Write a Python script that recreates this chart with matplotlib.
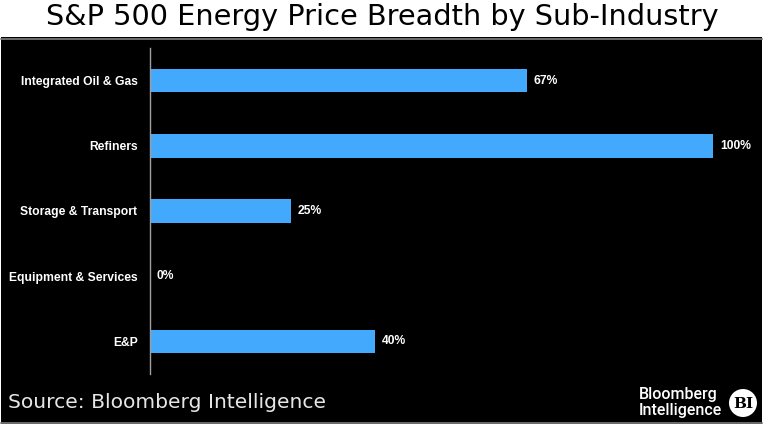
import numpy as np
import matplotlib.pyplot as plt
from matplotlib.patches import Rectangle, Circle

# data
categories = ["Integrated Oil & Gas", "Refiners", "Storage & Transport",
              "Equipment & Services", "E&P"]
breadth = [67, 100, 25, 0, 40]

W, H = 764, 426
fig = plt.figure(figsize=(W / 100, H / 100), dpi=100)
fig.patch.set_facecolor("white")

# black panel with gray rules
fig.add_artist(Rectangle((1 / W, 1 - 424 / H), 761 / W, 387 / H,
                         transform=fig.transFigure, facecolor="black",
                         edgecolor="none", zorder=-5))
for yy in (38.5, 422.5):
    fig.add_artist(plt.Line2D([1 / W, 762 / W], [1 - yy / H, 1 - yy / H],
                              transform=fig.transFigure, color="#808080", lw=1.2,
                              zorder=-4))

# axes: x=0 at 150px, 100% at 713px
x0, px_per = 150, 5.63
xmax = 108
ax = fig.add_axes([x0 / W, 1 - 374 / H, xmax * px_per / W, 326 / H])
ax.set_facecolor("none")

y = np.arange(len(categories))
ax.barh(y, breadth, height=0.36, color="#42a9fc")
ax.set_xlim(0, xmax)
ax.set_ylim(len(categories) - 0.5, -0.5)
ax.set_yticks(y)
ax.set_yticklabels(categories, color="white", fontsize=8.7, fontweight="bold",
                   family="Liberation Sans")
ax.tick_params(axis="y", length=0, pad=9)
ax.set_xticks([])
for s in ("top", "right", "bottom"):
    ax.spines[s].set_visible(False)
ax.spines["left"].set_color("#a0a0a0")
ax.spines["left"].set_linewidth(1)

for yi, v in zip(y, breadth):
    ax.text(v + 1.2, yi, f"{v}%", color="white", fontsize=8.7, fontweight="bold",
            family="Liberation Sans", va="center", ha="left")

fig.text(0.5, 1 - 17 / H, "S&P 500 Energy Price Breadth by Sub-Industry",
         ha="center", va="center", fontsize=20.7, color="black")
fig.text(8 / W, 1 - 402 / H, "Source: Bloomberg Intelligence", ha="left",
         va="center", fontsize=14.6, color="#e6e6e6")

# logo
fig.text(639 / W, 1 - 394 / H, "Bloomberg", ha="left", va="center",
         fontsize=11.5, color="white", family="Roboto", fontweight="medium")
fig.text(639 / W, 1 - 411 / H, "Intelligence", ha="left", va="center",
         fontsize=11.5, color="white", family="Roboto", fontweight="medium")
logo = fig.add_axes([729 / W, 1 - 417 / H, 28 / W, 28 / H])
logo.axis("off")
logo.set_xlim(0, 1)
logo.set_ylim(0, 1)
logo.add_patch(Circle((0.5, 0.5), 0.5, facecolor="white", edgecolor="none"))
logo.text(0.5, 0.48, "BI", ha="center", va="center", fontsize=11, color="black",
          family="DejaVu Serif", fontweight="bold")

fig.savefig("out.png", dpi=100, facecolor="white")
